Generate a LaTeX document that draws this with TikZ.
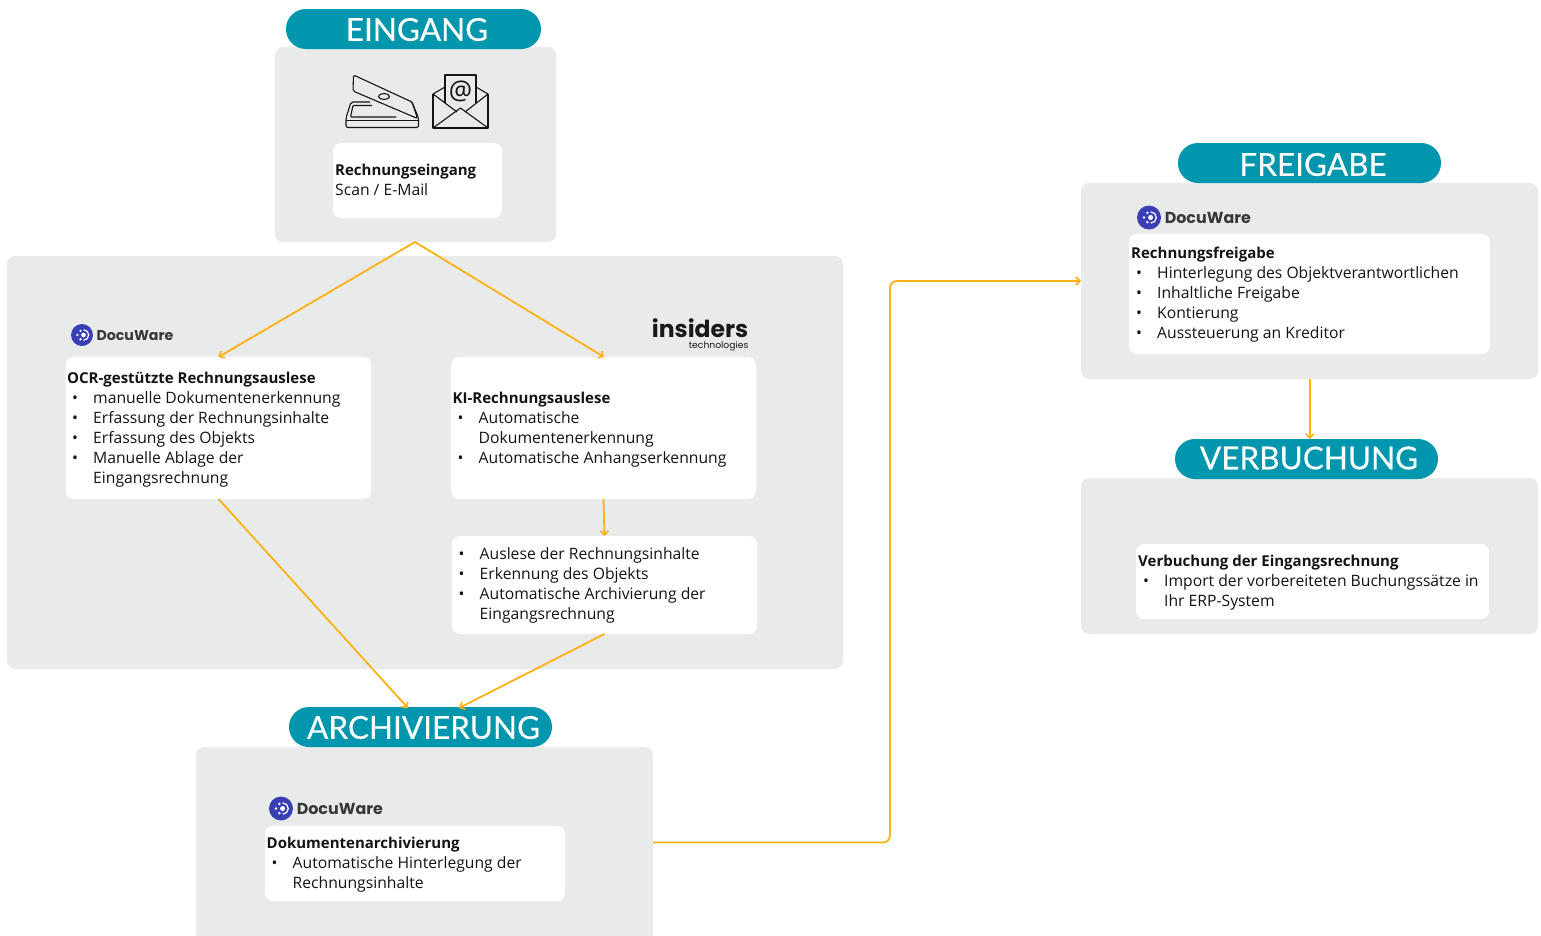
\documentclass[tikz,border=0pt]{standalone}
\usepackage{fontspec}
\usetikzlibrary{arrows.meta,calc}
\setmainfont{Open Sans}
\newfontfamily\headfont[FakeBold=0.25]{Lato}
\newfontfamily\logofont{Poppins}
\definecolor{panelgray}{HTML}{E9EBEA}
\definecolor{teal}{HTML}{0097AE}
\definecolor{amber}{HTML}{FFB012}
\definecolor{dwblue}{HTML}{3A3FB5}
\definecolor{ink}{HTML}{141414}
\newcommand{\bul}{\makebox[26pt][l]{\hspace{5pt}\textbullet}}
\newcommand{\cont}{\hspace*{26pt}}
\newcommand{\hd}[1]{{\fontsize{15}{20}\selectfont\bfseries #1}}
\newcommand{\docuware}[5]{% name, x, y, scale, text font size
  \begin{scope}[shift={(#2,#3)},scale=#4]
    \node[circle,fill=dwblue,minimum size=22pt,inner sep=0,transform shape] (#1) at (0,0) {};
    \fill[white] (1.5,0) circle (2.3);
    \fill[white] (-4.6,0) circle (1.3);
    \fill[white] (-1.5,-4.2) circle (1.3);
    \fill[white] (-1.5,4.2) circle (1.3);
    \draw[white,line width=1.2pt] (1.5,-5.2) arc (-90:90:5.2);
    \node[anchor=west,inner sep=0,text=black!78,font=\logofont\bfseries\fontsize{#5}{#5}\selectfont] (#1t) at (14.3,0.5) {DocuWare};
  \end{scope}}
\tikzset{
  x=1pt,y=-1pt,
  panel/.style={fill=panelgray,rounded corners=8pt},
  card/.style={fill=white,rounded corners=8pt},
  pill/.style={fill=teal,rounded corners=19.9pt},
  pilltext/.style={text=white,inner sep=0,font=\headfont\fontsize{31.5}{31.5}\selectfont},
  body/.style={anchor=north west,inner sep=0,align=left,text=ink,font=\fontsize{15.7}{20}\selectfont},
  flow/.style={draw=amber,line width=1.8pt,-{Straight Barb[length=4pt,width=8pt,line width=1.6pt]}},
  icon/.style={draw=ink,line width=1.1pt,line join=round},
}
\begin{document}
\begin{tikzpicture}
\useasboundingbox (0,0) rectangle (1541,935);
% panels
\fill[panel] (275,47) rectangle (556,242);
\fill[panel] (7,256) rectangle (843,669);
\fill[panel] (196,747) rectangle (653,945);
\fill[panel] (1081,183) rectangle (1538,379);
\fill[panel] (1081,478) rectangle (1538,634);
\clip (0,0) rectangle (1541,935);
% named anchors of the panels
\coordinate (einS) at (415,242);
\coordinate (archE) at (653,842.5);
\coordinate (freiW) at (1081,281);
\coordinate (freiS) at (1309.8,379);
% pills
\fill[pill] (286,9) rectangle (541,49);
\node[pilltext] (tEin) at (417,29.5) {EINGANG};
\fill[pill] (1178,143) rectangle (1441,183);
\node[pilltext] (tFrei) at (1313,164.5) {FREIGABE};
\fill[pill] (1175,439) rectangle (1438,479);
\node[pilltext] (tVer) at (1309,458) {VERBUCHUNG};
\fill[pill] (289,707) rectangle (552,747);
\node[pilltext] (tArch) at (423.5,727.5) {ARCHIVIERUNG};
% cards
\fill[card] (333,143) rectangle (502,218);
\fill[card] (66,357) rectangle (371,499);
\fill[card] (451,357) rectangle (756,499);
\fill[card] (452,536) rectangle (757,634);
\fill[card] (265,826) rectangle (565,901);
\fill[card] (1129,234) rectangle (1490,354);
\fill[card] (1136,544) rectangle (1489,619);
% card texts
\node[body] (c1) at (335,164) {\hd{Rechnungseingang}\\Scan / E-Mail};
\node[body] (c2) at (67,372) {\hd{OCR-gestützte Rechnungsauslese}\\\bul manuelle Dokumentenerkennung\\\bul Erfassung der Rechnungsinhalte\\\bul Erfassung des Objekts\\\bul Manuelle Ablage der\\\cont Eingangsrechnung};
\node[body] (c3) at (452.5,392) {\hd{KI-Rechnungsauslese}\\\bul Automatische\\\cont Dokumentenerkennung\\\bul Automatische Anhangserkennung};
\node[body] (c4) at (453.5,547) {\bul Auslese der Rechnungsinhalte\\\bul Erkennung des Objekts\\\bul Automatische Archivierung der\\\cont Eingangsrechnung};
\node[body] (c5) at (266.5,837) {\hd{Dokumentenarchivierung}\\\bul Automatische Hinterlegung der\\\cont Rechnungsinhalte};
\node[body] (c6) at (1131,247) {\hd{Rechnungsfreigabe}\\\bul Hinterlegung des Objektverantwortlichen\\\bul Inhaltliche Freigabe\\\bul Kontierung\\\bul Aussteuerung an Kreditor};
\node[body] (c7) at (1138,555) {\hd{Verbuchung der Eingangsrechnung}\\\bul Import der vorbereiteten Buchungssätze in\\\cont Ihr ERP-System};
% connector end points
\coordinate (ocrN) at (218.5,357);
\coordinate (ocrS) at (218.5,499);
\coordinate (kiN) at (604,357);
\coordinate (kiS) at (603.5,499);
\coordinate (ausN) at (604.5,536);
\coordinate (ausS) at (604.5,634);
\coordinate (pillA) at (408,708);
\coordinate (pillB) at (459,708);
\coordinate (pillV) at (1309.8,439);
% connectors
\draw[flow] (einS) -- (ocrN);
\draw[flow] (einS) -- (kiN);
\draw[flow] (kiS) -- (ausN);
\draw[flow] (ocrS) -- (pillA);
\draw[flow] (ausS) -- (pillB);
\draw[flow,rounded corners=7pt] (archE) -- (890,842.5) -- (890,281) -- (freiW);
\draw[flow] (freiS) -- (pillV);
% scanner icon
\begin{scope}[icon]
  \draw[rounded corners=1.5pt] (353.5,75) -- (353,91) -- (417.5,118.5) -- (412,102) -- cycle;
  \draw (384,96.5) ellipse (5.5 and 3);
  \draw[rounded corners=2pt] (370,102) -- (351,102) -- (346,118) -- (346,127.5) -- (418.5,127.5) -- (418.5,118) -- (412,102);
  \draw (346,120.5) -- (418.5,120.5);
  \draw[rounded corners=1pt] (372,105.5) -- (353,105.5) -- (350.5,117) -- (396,117);
\end{scope}
% envelope icon
\begin{scope}[icon]
  \draw (433,94) -- (433,128) -- (488,128) -- (488,94);
  \draw (433,128) -- (460.5,108) -- (488,128);
  \draw (433,94) -- (445,87);
  \draw (476,87) -- (488,94);
  \draw (433,94) -- (457,112);
  \draw (488,94) -- (465,112);
  \draw (445,103) -- (445,75) -- (476,75) -- (476,103);
  \node[inner sep=0,text=ink,font=\fontsize{26}{26}\selectfont] (at) at (460.5,91) {@};
\end{scope}
% logos
\docuware{dw1}{82}{335}{1}{14.2}
\docuware{dw2}{1149}{217.5}{1.09}{15.9}
\docuware{dw3}{281}{808.5}{1.09}{15.9}
\node[inner sep=0,anchor=south east,align=right,text=black!90] (ins) at (748.5,351.5) {{\logofont\bfseries\fontsize{23.5}{18}\selectfont insiders}\\[-1pt]{\logofont\fontsize{9.2}{9}\selectfont technologies}};
\end{tikzpicture}
\end{document}
